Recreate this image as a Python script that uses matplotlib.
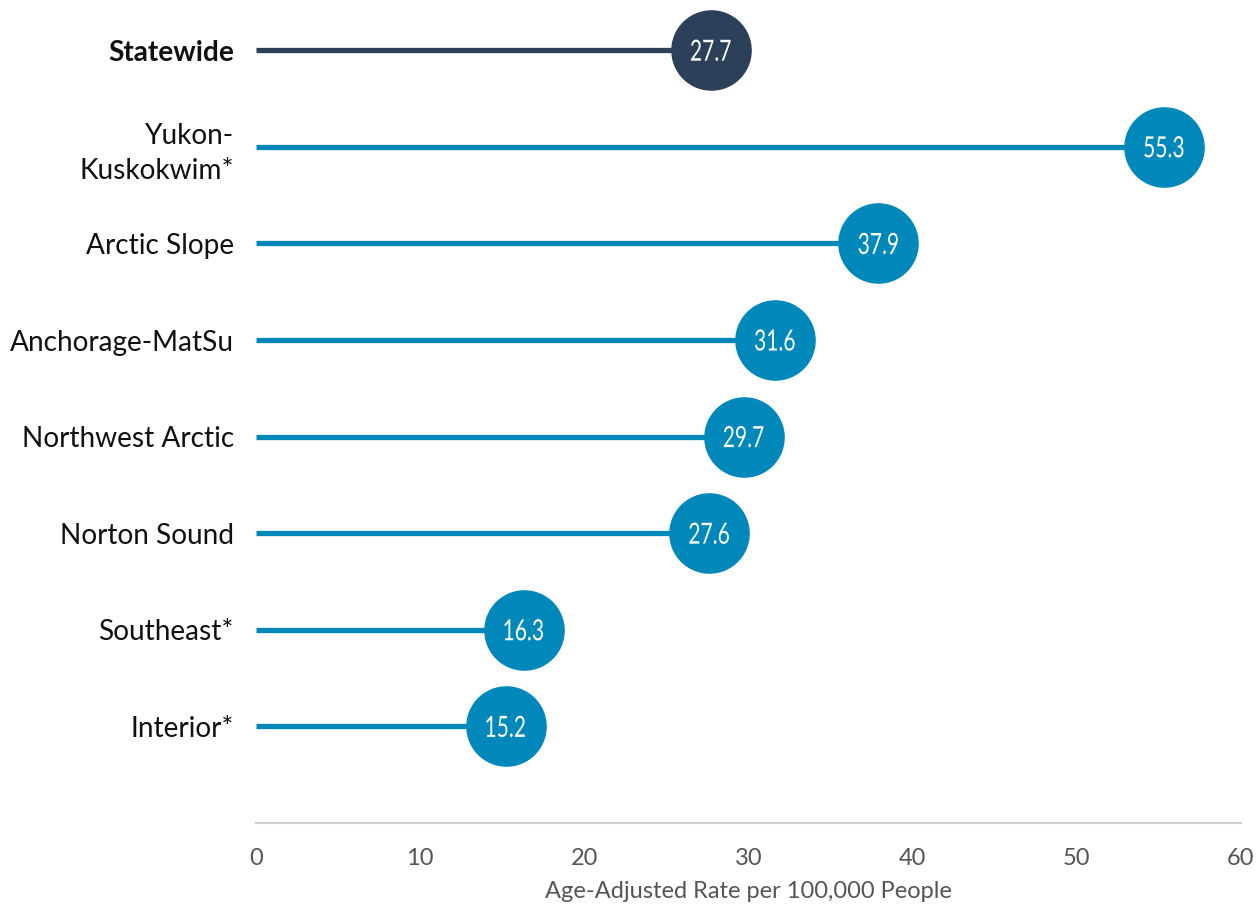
import matplotlib
matplotlib.use("Agg")
import matplotlib.pyplot as plt
from matplotlib.textpath import TextPath
from matplotlib.patches import PathPatch
from matplotlib.font_manager import FontProperties
from matplotlib.transforms import Affine2D, ScaledTranslation

regions = ["Statewide", "Yukon-\nKuskokwim*", "Arctic Slope", "Anchorage-MatSu",
           "Northwest Arctic", "Norton Sound", "Southeast*", "Interior*"]
rates = [27.7, 55.3, 37.9, 31.6, 29.7, 27.6, 16.3, 15.2]
xticks = [0, 10, 20, 30, 40, 50, 60]

navy = "#2D4059"
blue = "#0088BB"

fig = plt.figure(figsize=(12.6, 9.07), dpi=100)
ax = fig.add_axes([256/1260, (907-823)/907, (1241-256)/1260, 823/907])

vfont = FontProperties(family="Lato", weight="normal")
px = 100 / 72.0
for i, (r, v) in enumerate(zip(regions, rates)):
    c = navy if i == 0 else blue
    ax.plot([0, v], [i, i], color=c, lw=3.8, solid_capstyle="butt", zorder=2)
    ax.plot([v], [i], marker="o", ms=57, color=c, mec=c, zorder=3)
    tp = TextPath((0, 0), f"{v}", size=21, prop=vfont)
    ext = tp.get_extents()
    cx = (ext.x0 + ext.x1) / 2
    cy = (ext.y0 + ext.y1) / 2
    tr = (Affine2D().translate(-cx, -cy).scale(0.72 * px, px)
          + ScaledTranslation(v, i, ax.transData))
    ax.add_patch(PathPatch(tp, transform=tr, color="white", lw=0, zorder=4))

ax.set_xlim(0, 60)
ax.set_ylim(8, -0.52)
ax.set_yticks(range(len(regions)))
ax.set_yticklabels(regions, fontsize=20.2, family="Lato", color="#111111",
                   linespacing=1.4)
ax.get_yticklabels()[0].set_fontweight("bold")
ax.tick_params(axis="y", length=0, pad=16)
ax.set_xticks(xticks)
ax.set_xticklabels([str(t) for t in xticks], fontsize=17, family="Lato", color="#555555")
ax.tick_params(axis="x", length=0, pad=18)
ax.set_xlabel("Age-Adjusted Rate per 100,000 People", fontsize=17, family="Lato",
              color="#555555", labelpad=9)
for s in ["top", "right", "left"]:
    ax.spines[s].set_visible(False)
ax.spines["bottom"].set_color("#D0D0D0")
ax.spines["bottom"].set_linewidth(1.5)
ax.patch.set_alpha(0)

fig.savefig("out.png", dpi=100)
